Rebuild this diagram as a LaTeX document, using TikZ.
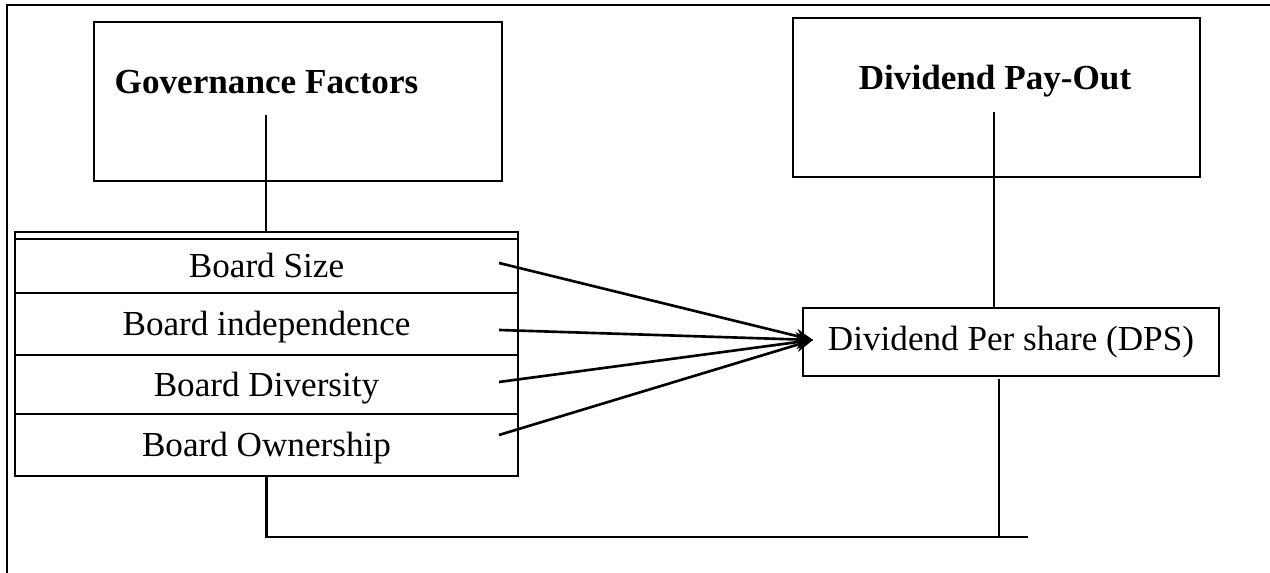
\documentclass[tikz,border=0pt]{standalone}
\usepackage{fontspec}
\setmainfont{Liberation Serif}
\usetikzlibrary{arrows.meta}

\begin{document}
\begin{tikzpicture}[line width=0.75pt,
    box/.style={draw, inner sep=0pt},
    row/.style={draw, inner sep=0pt, minimum width=5.03cm, text height=0.9em, text depth=0.22em},
    title/.style={font=\bfseries, anchor=base}]
    \useasboundingbox (0,0) rectangle (12.7,-5.73);
    \draw (12.7,-0.05) -- (0.07,-0.05) -- (0.07,-5.73);
    \node[box, minimum width=4.08cm, minimum height=1.59cm] (gov) at (2.98,-1.015) {};
    \node[title] (govtitle) at (2.665,-0.94) {Governance Factors};
    \node[box, minimum width=4.07cm, minimum height=1.59cm] (div) at (9.965,-0.975) {};
    \node[title] (divtitle) at (9.95,-0.90) {Dividend Pay-Out};
    \node[box, minimum width=5.03cm, minimum height=0.07cm] (band) at (2.665,-2.355) {};
    \node[row, minimum height=0.54cm] (r1) at (2.665,-2.66) {Board Size};
    \node[row, minimum height=0.62cm] (r2) at (2.665,-3.24) {Board independence};
    \node[row, minimum height=0.59cm] (r3) at (2.665,-3.845) {Board Diversity};
    \node[row, minimum height=0.62cm] (r4) at (2.665,-4.45) {Board Ownership};
    \node[box, minimum width=4.16cm, minimum height=0.68cm] (dps) at (10.11,-3.42) {Dividend Per share (DPS)};
    \coordinate (tip) at (8.13,-3.40);
    \foreach \y [count=\i] in {2.63,3.30,3.82,4.35}
        \coordinate (from\i) at (4.99,-\y);
    \foreach \i in {1,...,4}
        \draw[-{Stealth[length=5pt, width=4pt]}] (from\i) -- (tip);
    \coordinate (govend) at (2.66,-1.15);
    \coordinate (divend) at (9.94,-1.12);
    \coordinate (dpsout) at (9.99,-3.79);
    \coordinate (botend) at (10.28,-5.37);
    \draw (govend) -- (govend |- band.north);
    \draw (divend) -- (divend |- dps.north);
    \draw (dpsout) -- (dpsout |- botend);
    \draw (r4.south) -- (r4.south |- botend) -- (botend);
\end{tikzpicture}
\end{document}
